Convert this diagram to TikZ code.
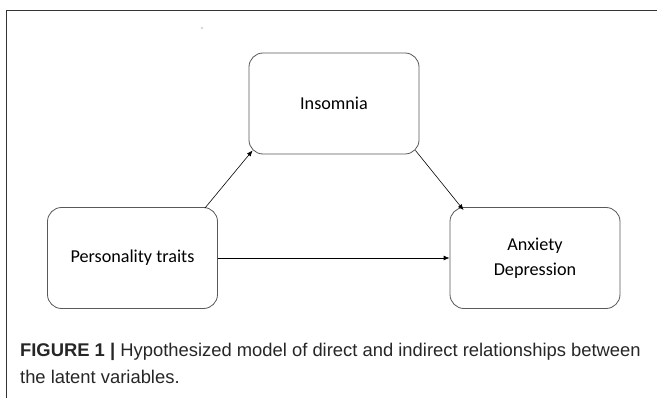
\documentclass[tikz,border=0pt]{standalone}
\usepackage{fontspec}
\setmainfont{Liberation Sans}
\newfontfamily\boxfont{Carlito}
\usetikzlibrary{arrows.meta,calc}

\tikzset{
	varbox/.style={draw=black!65, line width=0.7pt, rounded corners=12pt,
		minimum width=5.1cm, minimum height=3.03cm, align=center,
		font=\boxfont\fontsize{15.5}{21.5}\selectfont},
	link/.style={-{Latex[length=5pt,width=4pt]}, line width=0.5pt},
	captext/.style={anchor=west, text=black!85, font=\fontsize{15.7}{20}\selectfont}
}

\begin{document}
\begin{tikzpicture}[x=0.03cm, y=-0.03cm]
		\useasboundingbox (0,0) rectangle (657,398);
		% frame
		\draw[line width=0.7pt, black!80] (6,398) -- (6,10) -- (657,10);
		\fill[black!70] (202,28) circle (0.6);
		% boxes
		\node[varbox] (insomnia) at (334,103.5) {Insomnia};
		\node[varbox] (traits) at (132.5,258) {Personality traits};
		\node[varbox] (anxdep) at (535,258) {Anxiety\\Depression};
		% arrow ends
		\coordinate (t1) at ($(traits.north east)+(-13,1)$);
		\coordinate (i1) at ($(insomnia.south west)+(4,-4)$);
		\coordinate (i2) at ($(insomnia.south east)+(-4,-4)$);
		\coordinate (a1) at ($(anxdep.north west)+(14,3)$);
		% arrows
		\draw[link] (t1) -- (i1);
		\draw[link] (i2) -- (a1);
		\draw[link] (traits.east) -- (anxdep.west);
		% text
		\node[captext] (cap1) at (16,352)
		{\textbf{FIGURE 1 |} Hypothesized model of direct and indirect relationships between};
		\node[captext] (cap2) at (16,377) {the latent variables.};
	\end{tikzpicture}
\end{document}
